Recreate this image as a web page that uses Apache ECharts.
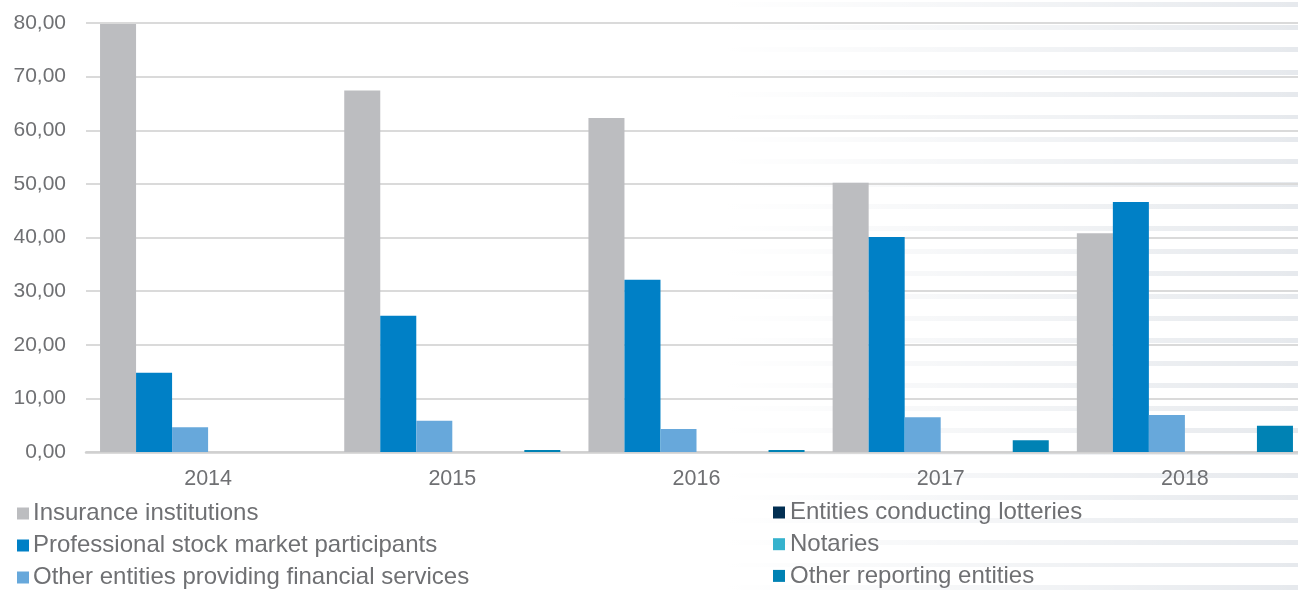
<!DOCTYPE html>
<html>
<head>
<meta charset="utf-8">
<script src="https://cdn.jsdelivr.net/npm/echarts@6/dist/echarts.min.js"></script>
<style>
  html, body { margin: 0; padding: 0; overflow: hidden; }
  #wrap {
    position: relative; width: 1298px; height: 590px; overflow: hidden;
    background:
      linear-gradient(to right, #ffffff 0%, #ffffff 56%, rgba(255,255,255,0.6) 75%, rgba(255,255,255,0) 100%),
      repeating-linear-gradient(to bottom, #ffffff 0px, #ffffff 2.5px, #e6e9ed 2.5px, #e6e9ed 7.5px, #ffffff 7.5px, #ffffff 22.4px);
  }
  #chart { position: absolute; left: 0; top: 0; width: 1307px; height: 620px; }
</style>
</head>
<body>
<div id="wrap"><div id="chart"></div></div>
<script>
const categories = ['2014', '2015', '2016', '2017', '2018'];
const insurance = [79.8, 67.4, 62.3, 50.2, 40.8];
const stockMarket = [14.8, 25.4, 32.1, 40.1, 46.6];
const otherFinancial = [4.6, 5.85, 4.3, 6.5, 6.9];
const lotteries = [0, 0, 0, 0, 0];
const notaries = [0, 0, 0, 0, 0];
const otherReporting = [0, 0.38, 0.35, 2.2, 4.9];
const yTicks = [0, 10, 20, 30, 40, 50, 60, 70, 80];

const names = {
  insurance: 'Insurance institutions',
  stock: 'Professional stock market participants',
  fin: 'Other entities providing financial services',
  lot: 'Entities conducting lotteries',
  not: 'Notaries',
  rep: 'Other reporting entities'
};
const colors = {
  insurance: '#bcbdc0',
  stock: '#0080c6',
  fin: '#67a8db',
  lot: '#022f52',
  not: '#35b2cd',
  rep: '#0082b4'
};

const FONT = '"Liberation Sans", Arial, sans-serif';
const TXT = '#6f7073';

function bar(name, data, color) {
  return {
    name: name, type: 'bar', data: data,
    barGap: '0%', barCategoryGap: '11.5%',
    itemStyle: { color: color },
    emphasis: { disabled: true }
  };
}

const chart = echarts.init(document.getElementById('chart'), null, { renderer: 'canvas' });
chart.setOption({
  backgroundColor: 'transparent',
  animation: false,
  grid: { left: 86, right: 0, top: 23, bottom: 168, containLabel: false },
  xAxis: {
    type: 'category', data: categories,
    axisLine: { show: true, lineStyle: { color: '#d0d0d0', width: 2.5 } },
    axisTick: { show: false },
    axisLabel: { color: TXT, fontSize: 21.5, fontFamily: FONT, margin: 16 }
  },
  yAxis: {
    type: 'value', min: yTicks[0], max: yTicks[yTicks.length - 1], interval: 10,
    axisLine: { show: false }, axisTick: { show: false },
    splitLine: { show: true, lineStyle: { color: '#dadada', width: 2 } },
    axisLabel: {
      color: TXT, fontSize: 21, fontFamily: FONT, margin: 20,
      formatter: v => v.toFixed(2).replace('.', ',')
    }
  },
  legend: [
    {
      data: [names.insurance, names.stock, names.fin],
      orient: 'vertical', left: 17, top: 501.5, padding: 0,
      itemWidth: 12, itemHeight: 12, itemGap: 8, icon: 'rect',
      selectedMode: false,
      textStyle: { color: TXT, fontSize: 24, fontFamily: FONT, lineHeight: 24, padding: [0, 0, 0, -1] }
    },
    {
      data: [names.lot, names.not, names.rep],
      orient: 'vertical', left: 773, top: 500.5, padding: 0,
      itemWidth: 12, itemHeight: 12, itemGap: 7.7, icon: 'rect',
      selectedMode: false,
      textStyle: { color: TXT, fontSize: 24, fontFamily: FONT, lineHeight: 24 }
    }
  ],
  series: [
    bar(names.insurance, insurance, colors.insurance),
    bar(names.stock, stockMarket, colors.stock),
    bar(names.fin, otherFinancial, colors.fin),
    bar(names.lot, lotteries, colors.lot),
    bar(names.not, notaries, colors.not),
    bar(names.rep, otherReporting, colors.rep)
  ]
});
</script>
</body>
</html>
